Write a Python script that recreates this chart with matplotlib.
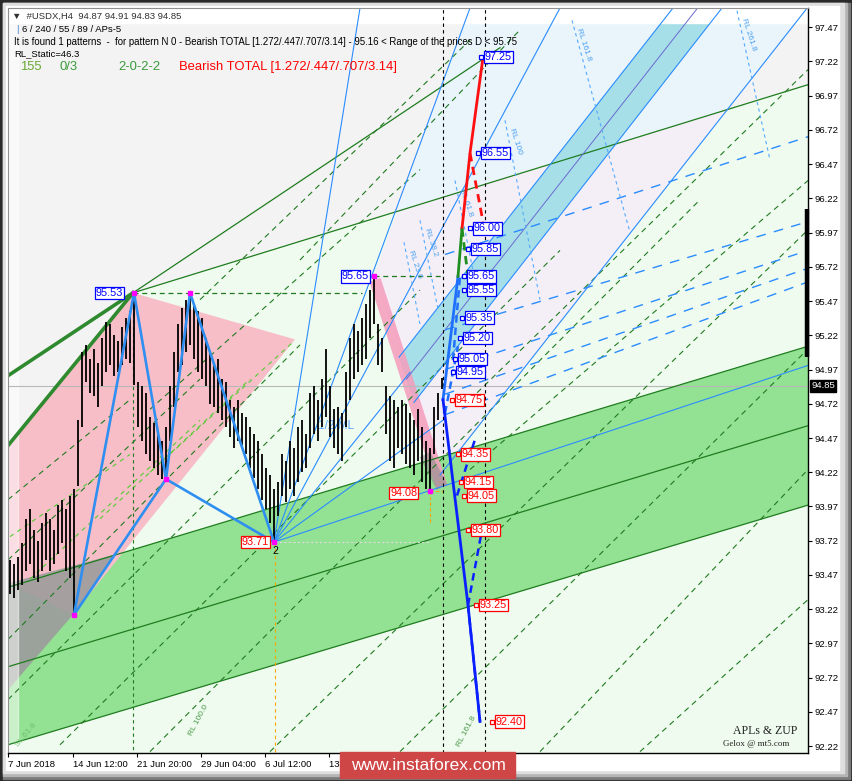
import matplotlib
matplotlib.use("Agg")
import matplotlib.pyplot as plt
from matplotlib.patches import Rectangle

plt.rcParams['font.family'] = ['Liberation Sans', 'DejaVu Sans']

W, H = 853, 781

# ---- H4 bars, index 0 = 7 Jun 2018
highs = [93.58, 93.55, 93.60, 93.70, 93.88, 93.95, 93.80, 93.72, 93.85, 93.92,
         93.88, 93.80, 93.98, 94.02, 93.95, 94.05, 94.10, 94.60, 95.10, 95.15,
         95.05, 95.12, 95.02, 95.20, 95.32, 95.30, 95.22, 95.18, 95.28, 95.35,
         95.40, 95.53, 94.88, 94.85, 94.80, 94.62, 94.58, 94.50, 94.45, 94.55,
         94.85, 95.10, 95.30, 95.42, 95.48, 95.53, 95.45, 95.40, 95.35, 95.20,
         95.10, 95.00, 95.05, 94.90, 94.88, 94.75, 94.70, 94.75, 94.65, 94.62,
         94.55, 94.50, 94.45, 94.35, 94.25, 94.20, 94.10, 94.15, 94.35, 94.30,
         94.45, 94.40, 94.55, 94.60, 94.50, 94.80, 94.85, 94.75, 94.90, 95.12,
         94.85, 94.68, 94.70, 94.65, 94.95, 95.20, 95.30, 95.25, 95.35, 95.45,
         95.55, 95.65, 95.30, 95.20, 94.85, 94.78, 94.75, 94.70, 94.75, 94.72,
         94.65, 94.60, 94.68, 94.55, 94.45, 94.40, 94.70, 94.80, 94.91]
lows = [93.33, 93.30, 93.36, 93.40, 93.50, 93.55, 93.45, 93.42, 93.50, 93.58,
        93.50, 93.55, 93.62, 93.70, 93.50, 93.45, 93.18, 94.12, 94.55, 94.88,
        94.80, 94.78, 94.70, 94.85, 94.95, 95.00, 94.92, 94.95, 95.00, 95.05,
        95.02, 94.86, 94.55, 94.45, 94.35, 94.30, 94.25, 94.20, 94.17, 94.17,
        94.45, 94.70, 94.95, 95.00, 95.10, 95.15, 95.05, 94.95, 94.90, 94.85,
        94.72, 94.70, 94.65, 94.60, 94.55, 94.48, 94.40, 94.45, 94.42, 94.35,
        94.25, 94.18, 94.10, 94.02, 93.95, 93.85, 93.71, 93.90, 94.05, 94.00,
        94.10, 94.05, 94.15, 94.22, 94.25, 94.40, 94.50, 94.45, 94.55, 94.62,
        94.48, 94.40, 94.35, 94.30, 94.55, 94.75, 94.90, 94.95, 95.00, 95.05,
        95.20, 95.30, 95.00, 94.95, 94.50, 94.30, 94.25, 94.40, 94.35, 94.28,
        94.25, 94.20, 94.30, 94.15, 94.10, 94.08, 94.35, 94.60, 94.83]

# pattern X-A-B-C-D (bar, price)
pattern_bars = [16, 31, 39, 45, 66]
pattern_prices = [93.18, 95.53, 94.17, 95.53, 93.71]
peak = (91, 95.65)
low = (105, 94.08)

# projected levels and where their boxes sit
proj_levels = [97.25, 96.55, 96.00, 95.85, 95.65, 95.55, 95.35, 95.20, 95.05,
               94.95, 94.75, 94.35, 94.15, 94.05, 93.80, 93.25, 92.40]
proj_label_bars = [118.25, 117.5, 115.5, 115, 114, 114, 113.5, 113, 111.75,
                   111.25, 111, 112.5, 113.25, 114, 115, 117, 121]

price_ticks = [92.22, 92.47, 92.72, 92.97, 93.22, 93.47, 93.72, 93.97, 94.22,
               94.47, 94.72, 94.97, 95.22, 95.47, 95.72, 95.97, 96.22, 96.47,
               96.72, 96.97, 97.22, 97.47]
time_labels = ["7 Jun 2018", "14 Jun 12:00", "21 Jun 20:00", "29 Jun 04:00",
               "6 Jul 12:00", "13 Jul 20:00"]
time_bars = [-0.5, 15.75, 31.75, 47.75, 63.75, 79.75]
last_price = 94.85

# zones (bar, price)
gray_zone = [(-0.5, 97.61), (199.5, 97.61), (199.5, 97.05), (30.75, 95.53), (-0.5, 94.415)]
pale_blue_zone = [(96.82, 96.13), (115, 97.61), (199.3, 97.61), (179.35, 96.87)]
lavender_zone = [(91, 95.65), (96.82, 96.13), (179.35, 96.87), (107.5, 94.20)]
cyan_band = [(97.25, 95.06), (165.75, 97.61), (178, 97.61), (101, 94.73)]
pink_zone = [(-0.5, 94.415), (30.75, 95.53), (71.25, 95.19), (15.75, 93.18), (-0.5, 93.41)]
gray_tri = [(-0.5, 93.41), (26.25, 93.62), (15.75, 93.18), (-0.5, 92.63)]
green_band = [(-0.5, 93.38), (199.5, 95.14), (199.5, 93.98), (-0.5, 92.23)]

dark_green_solid = [
    [(-0.5, 93.38), (199.5, 95.14)],
    [(-0.5, 92.80), (199.5, 94.56)],
    [(-0.5, 92.23), (199.5, 93.98)],
    [(30.75, 95.53), (199.5, 97.05)],
    [(30.75, 95.53), (122.5, 97.32)],
]
thick_green = [
    [(-0.5, 94.925), (30.75, 95.53)],
    [(-0.5, 94.415), (30.75, 95.53)],
]
green_dashed = [
    [(-0.5, 93.00), (72.5, 95.15)], [(-0.5, 92.56), (102.5, 95.55)],
    [(12.5, 92.23), (137.5, 95.84)], [(35, 92.18), (172.5, 96.21)],
    [(65, 92.18), (199.5, 95.99)], [(97.5, 92.18), (199.5, 95.12)],
    [(132.5, 92.18), (199.5, 94.24)], [(157.5, 92.18), (199.5, 93.29)],
    [(-0.5, 93.58), (47.5, 94.90)], [(-0.5, 94.02), (30, 94.75)],
    [(35, 94.68), (102.5, 96.43)], [(47.5, 95.48), (115, 97.375)],
    [(72.5, 95.77), (127.5, 97.45)], [(115, 94.75), (199.5, 97.16)],
    [(115, 94.24), (199.5, 96.35)],
]
light_green_dashed = [
    [(35, 94.22), (70.75, 95.17)], [(22.5, 93.88), (60, 94.90)],
    [(5, 93.44), (47.5, 94.60)], [(0, 93.75), (30, 94.35)],
]
blue_fan = [
    [(66, 93.71), (115, 97.61)], [(66, 93.71), (199.5, 95.00)],
    [(66, 93.71), (87.5, 97.61)], [(66, 93.71), (137.5, 97.61)],
    [(66, 93.71), (108.25, 94.60)], [(66, 93.71), (100, 94.95)],
]
channel_lines = [
    [(97.25, 95.06), (165.75, 97.61)], [(101, 94.73), (178, 97.61)],
    [(107.5, 94.20), (199.3, 97.61)],
]
channel_mid = [(99.1, 94.90), (171.9, 97.61)]
blue_dashed_right = [
    [(108.75, 95.81), (199.5, 96.67)], [(108.75, 95.26), (199.5, 96.05)],
    [(108.75, 94.97), (199.5, 95.84)], [(108.75, 94.79), (199.5, 95.71)],
    [(108.75, 94.64), (199.5, 95.61)],
]
rl_lines = [
    ("RL 161.8", [(140.5, 97.52), (155, 95.97)]),
    ("RL 261.8", [(181.75, 97.59), (190, 96.50)]),
    ("RL 100", [(123.75, 96.79), (132.5, 95.48)]),
    ("RL 61.8", [(111.25, 96.35), (116.25, 95.62)]),
    ("RL 38.2", [(102.5, 96.06), (107, 95.41)]),
    ("RL 23.6", [(98.5, 95.90), (102.5, 95.30)]),
]

# projection path
proj_blue = [(108.25, 94.75), (112, 95.65)]
proj_green = [(112, 95.65), (113, 96.00)]
proj_red = [(113, 96.00), (115, 96.55), (118.25, 97.25)]
proj_green_dash = [(113, 96.00), (114.5, 95.65)]
proj_red_dash = [(115, 96.55), (118.25, 96.05)]
proj_blue_dash_up = [[(108.75, 94.65), (112, 95.14)], [(110.75, 95.04), (112.5, 95.65)]]
proj_down = [(108.25, 94.75), (114.5, 93.25), (117.5, 92.40)]
proj_blue_dash_down = [[(111.75, 94.05), (116.25, 94.46)], [(114.5, 93.25), (118, 93.80)],
                       [(114.5, 93.25), (117.5, 92.40)]]


def fx(px):
    return px / W


def fy(py):
    return 1 - py / H


def frect(x0, y0, x1, y1, color):
    fig.patches.append(Rectangle((fx(x0), fy(y1)), (x1 - x0) / W, (y1 - y0) / H,
                                 transform=fig.transFigure, color=color, zorder=-5))


def poly(pts, **kw):
    xs, ys = zip(*pts)
    ax.fill(xs, ys, lw=0, **kw)


def line(pts, **kw):
    xs, ys = zip(*pts)
    ax.plot(xs, ys, **kw)


fig = plt.figure(figsize=(W / 100, H / 100), dpi=100, facecolor='#2a2a2a')
# window frame and bevel
frect(3, 3, 850, 779, '#7a7a7a')
frect(3, 3, 847, 776, '#b4b4b4')
frect(3, 3, 844, 773, '#dedede')
frect(6, 6, 839, 770, 'white')

ax = fig.add_axes([fx(8), fy(753), 800 / W, 745 / H])
ax.set_xlim(-0.5, 199.5)
ax.set_ylim(92.17, 97.61)
ax.set_facecolor('#effbef')

poly(gray_zone, color='#f3f3f3', zorder=0.5)
poly(pale_blue_zone, color='#e9f4fb', zorder=0.55)
poly(lavender_zone, color='#f4eff7', zorder=0.55)
poly(green_band, color='#93e193', zorder=0.7)
poly(pink_zone, color='#f8bec8', zorder=0.8)
poly(gray_tri, color='#9c9c9c', alpha=0.9, zorder=0.85)
poly(cyan_band, color='#a6dfe7', zorder=0.9)
ax.axhspan(97.50, 97.61, color='white', zorder=1.0)
ax.axvspan(-0.5, 2.0, color='white', alpha=0.5, zorder=1.0)
line([(91.25, 95.625), (108, 94.11)], color='#f59cbc', lw=8.5, alpha=0.85,
     solid_capstyle='butt', zorder=1.1)
line([(103.75, 94.35), (108, 94.11)], color='#909090', lw=8.5, alpha=0.6,
     solid_capstyle='butt', zorder=1.15)

# price line
ax.axhline(last_price, color='#b8b8b8', lw=0.8, zorder=1.3)

for seg in dark_green_solid:
    line(seg, color='#1f7d1f', lw=0.9, zorder=2)
for seg in thick_green:
    line(seg, color='#2f8a2f', lw=2.6, zorder=2)
for seg in green_dashed:
    line(seg, color='#207a20', lw=0.8, dashes=(5, 4), zorder=2)
for seg in light_green_dashed:
    line(seg, color='#55cc33', lw=0.8, dashes=(4, 4), zorder=2)
for seg in blue_fan:
    line(seg, color='#2a8cff', lw=0.8, zorder=2)
for seg in channel_lines:
    line(seg, color='#2a8cff', lw=0.8, zorder=2)
line(channel_mid, color='#6a6ad0', lw=0.7, zorder=2)
for seg in blue_dashed_right:
    line(seg, color='#2a8cff', lw=1.0, dashes=(7, 6), zorder=2)
for name, seg in rl_lines:
    line(seg, color='#55aaff', lw=0.8, dashes=(3, 3), zorder=2)
    ax.text(seg[0][0] + 0.8, seg[0][1] - 0.05, name, color='#4aa0f0', fontsize=6,
            rotation=-72, ha='left', va='top', zorder=2.5)

# vertical / horizontal markers
ax.axvline(108.25, color='black', lw=0.8, dashes=(3, 3), zorder=2.2)
ax.axvline(118.75, color='black', lw=0.8, dashes=(3, 3), zorder=2.2)
line([(30.75, 95.53), (30.75, 92.17)], color='#207a20', lw=0.8, dashes=(3, 3), zorder=2)
line([(30.75, 95.53), (88, 95.53)], color='#207a20', lw=0.9, dashes=(4, 3), zorder=2)
line([(91, 95.65), (108.25, 95.65)], color='#207a20', lw=0.9, dashes=(4, 3), zorder=2)
line([(66.25, 93.71), (66.25, 92.17)], color='#ffa500', lw=0.8, dashes=(3, 3), zorder=2)
line([(66.25, 93.71), (105, 93.71)], color='#dddddd', lw=0.8, dashes=(2, 2), zorder=2)
line([(105, 94.08), (105, 93.85)], color='#ffa500', lw=0.8, dashes=(3, 2), zorder=2)
line([(105, 94.08), (108.25, 94.08)], color='#ffa500', lw=0.8, dashes=(3, 2), zorder=2)

# price bars
ax.vlines(range(len(highs)), lows, highs, color='black', lw=1.3, zorder=3)

# pattern
pb, pp = pattern_bars, pattern_prices
for i, j in [(0, 1), (1, 2), (2, 3), (3, 4), (0, 2), (2, 4)]:
    line([(pb[i], pp[i]), (pb[j], pp[j])], color='#2f8ff0', lw=1.9, zorder=4)
ax.plot(pb + [peak[0], low[0]], pp + [peak[1], low[1]], 's', ms=2.5,
        color='#ff00ff', zorder=4.5)

# projections
line(proj_blue, color='#2070ff', lw=2, zorder=4)
line(proj_green, color='#1f8f1f', lw=2, zorder=4)
line(proj_red, color='#ff1010', lw=2, zorder=4)
line(proj_green_dash, color='#1f8f1f', lw=2, dashes=(3, 2), zorder=4)
line(proj_red_dash, color='#ff1010', lw=2, dashes=(3, 2), zorder=4)
for seg in proj_blue_dash_up:
    line(seg, color='#2070ff', lw=1.8, dashes=(3, 2), zorder=4)
line(proj_down, color='#0a20ff', lw=2, zorder=4)
for seg in proj_blue_dash_down:
    line(seg, color='#0a20ff', lw=1.8, dashes=(3, 2), zorder=4)

for lv, bx in zip(proj_levels, proj_label_bars):
    c = '#0000ff' if lv > last_price else '#ff0000'
    ax.plot([bx - 0.4], [lv], 's', ms=3, mfc='white', mec=c, mew=0.9, zorder=5)
    ax.text(bx + 0.5, lv, f"{lv:.2f}", color=c, fontsize=7.8, ha='left', va='center',
            zorder=5, bbox=dict(boxstyle='square,pad=0.1', fc='white', ec=c, lw=0.9))

box_kw = dict(fontsize=7.8, va='center', ha='right', zorder=5)
ax.text(28.3, 95.53, "95.53", color='#0000ff',
        bbox=dict(boxstyle='square,pad=0.1', fc='white', ec='#0000ff', lw=0.9), **box_kw)
ax.text(64.8, 93.71, "93.71", color='#ff0000',
        bbox=dict(boxstyle='square,pad=0.1', fc='white', ec='#ff0000', lw=0.9), **box_kw)
ax.text(89.8, 95.65, "95.65", color='#0000ff',
        bbox=dict(boxstyle='square,pad=0.1', fc='white', ec='#0000ff', lw=0.9), **box_kw)
ax.text(101.8, 94.07, "94.08", color='#ff0000',
        bbox=dict(boxstyle='square,pad=0.1', fc='white', ec='#ff0000', lw=0.9), **box_kw)
ax.text(66.4, 93.68, "2", fontsize=7.5, ha='center', va='top', zorder=5)
ax.text(77, 94.56, "1/2 ML", color='#5aa8ff', fontsize=8.5, ha='left', va='center', zorder=2.5)

# small rotated level names near the bottom
ax.text(1, 92.22, "SL 61.8", color='#70c070', fontsize=6, rotation=50, zorder=2.5)
ax.text(44.5, 92.30, "RL 100.0", color='#4a9a4a', fontsize=6, rotation=62, zorder=2.5)
ax.text(111.5, 92.22, "RL 161.8", color='#4a9a4a', fontsize=6, rotation=62, zorder=2.5)

# axes, ticks
ax.yaxis.tick_right()
ax.set_yticks(price_ticks)
ax.set_yticklabels([f"{t:.2f}" for t in price_ticks], fontsize=6.8)
ax.set_xticks(time_bars)
ax.set_xticklabels(time_labels, fontsize=6.8, ha='left')
ax.tick_params(axis='both', length=3, width=0.8, pad=2, colors='black')
for s in ['right', 'bottom']:
    ax.spines[s].set_color('black')
    ax.spines[s].set_linewidth(1)
for s in ['top', 'left']:
    ax.spines[s].set_color('#909090')
ax.plot([199.3, 199.3], [95.06, 96.14], color='black', lw=3.2,
        solid_capstyle='butt', zorder=6, clip_on=False)
ax.text(1.004, last_price, f"{last_price:.2f}", transform=ax.get_yaxis_transform(),
        color='white', fontsize=6.8, ha='left', va='center', zorder=7,
        bbox=dict(boxstyle='square,pad=0.15', fc='black', ec='black'))

# header
fig.text(fx(12), fy(16), "\u25bc  #USDX,H4  94.87 94.91 94.83 94.85", fontsize=6.8,
         color='#303030', va='center')
fig.text(fx(16), fy(29), "|", fontsize=6.8, color='#3a78d0', va='center')
fig.text(fx(22), fy(29), "6 / 240 / 55 / 89 / APs-5", fontsize=6.8, va='center')
fig.text(fx(14), fy(42), "It is found 1 patterns  -  for pattern N 0 - Bearish TOTAL "
         "[1.272/.447/.707/3.14] - 95.16 < Range of the prices D < 95.75",
         fontsize=6.9, va='center')
fig.text(fx(14), fy(54), "RL_Static=46.3", fontsize=6.8, va='center')
fig.text(fx(20), fy(67), "155", fontsize=9.4, color='#6aa832', va='center')
fig.text(fx(60), fy(67), "0/3", fontsize=9.4, color='#3a9a3a', va='center')
fig.text(fx(118), fy(67), "2-0-2-2", fontsize=9.4, color='#3a9a3a', va='center')
fig.text(fx(179), fy(67), "Bearish TOTAL [1.272/.447/.707/3.14]", fontsize=9.4,
         color='#ff0000', va='center')

fig.text(fx(733), fy(731), "APLs & ZUP", fontsize=8.5, family='Liberation Serif',
         color='#202020', va='center')
fig.text(fx(723), fy(744), "Gelox @ mt5.com", fontsize=6.4, family='Liberation Serif',
         color='#202020', va='center')

# watermark (covers the later time labels, as in the screenshot)
fig.patches.append(Rectangle((fx(340), fy(778)), 175 / W, 26 / H, transform=fig.transFigure,
                             color='#cf4646', zorder=10))
fig.text(fx(428), fy(765), "www.instaforex.com", fontsize=12.5, color='white',
         ha='center', va='center', zorder=11)

fig.savefig("out.png", dpi=100, facecolor=fig.get_facecolor())
